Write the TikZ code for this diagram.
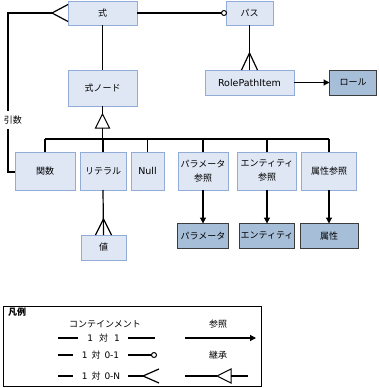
\documentclass[tikz,border=0pt]{standalone}
\usepackage{fontspec}
\setmainfont{DejaVu Sans}
\newfontfamily\jp{Noto Sans CJK JP}
\usetikzlibrary{arrows.meta}
\definecolor{lfill}{RGB}{223,231,245}
\definecolor{ldraw}{RGB}{146,172,216}
\definecolor{dfill}{RGB}{166,190,215}
\definecolor{ddraw}{RGB}{60,60,60}
\tikzset{
  base/.style={inner sep=0pt, outer sep=0pt, align=center, font=\jp\fontsize{9}{14}\selectfont},
  lbox/.style={base, draw=ldraw, fill=lfill, line width=1pt},
  dbox/.style={base, draw=ddraw, fill=dfill, line width=1pt},
  conn/.style={line width=1.2pt, black},
  arr/.style={conn, -{Triangle[length=6pt,width=6pt]}},
  lat/.style={font=\fontsize{9.5}{12}\selectfont},
  txt/.style={inner sep=0pt, font=\jp\fontsize{9}{12}\selectfont},
  ltxt/.style={inner sep=0pt, font=\fontsize{9}{12}\selectfont},
}
\begin{document}
\begin{tikzpicture}[x=1pt,y=-1pt]
\useasboundingbox[fill=white] (0,0) rectangle (379,388);
% nodes
\node[lbox, minimum width=69, minimum height=24] (shiki) at (102.5,13) {式};
\node[lbox, minimum width=47, minimum height=24] (pasu) at (249.5,13) {パス};
\node[lbox, minimum width=69, minimum height=36] (enode) at (102.5,88) {式ノード};
\node[lbox, lat, minimum width=89, minimum height=25] (rpi) at (249.5,82.5) {RolePathItem};
\node[dbox, minimum width=47, minimum height=25] (role) at (353,82.5) {ロール};
\node[lbox, minimum width=60, minimum height=38] (kansu) at (45,171) {関数};
\node[lbox, minimum width=46, minimum height=38] (literal) at (103,171) {リテラル};
\node[lbox, lat, minimum width=33, minimum height=38] (null) at (147.5,171) {Null};
\node[lbox, minimum width=50, minimum height=38] (paramref) at (203,171) {パラメータ\\参照};
\node[lbox, minimum width=59, minimum height=38] (entref) at (267,171) {エンティティ\\参照};
\node[lbox, minimum width=55, minimum height=38] (attrref) at (329,171) {属性参照};
\node[lbox, minimum width=45, minimum height=25] (atai) at (103.5,247.5) {値};
\node[dbox, minimum width=51, minimum height=25] (param) at (203,236) {パラメータ};
\node[dbox, minimum width=55, minimum height=25] (ent) at (267,236) {エンティティ};
\node[dbox, minimum width=58, minimum height=25] (attr) at (329,236) {属性};
% connectors
\draw[conn] (shiki.south) -- (enode.north);
\coordinate (pc) at (224,13);
\draw[conn] (shiki.east) -- ([xshift=-2.5pt]pc);
\draw[conn, fill=white, line width=1pt] (pc) circle[radius=2.5];
% argument loop
\coordinate (lt) at (8,13);
\coordinate (lb) at (8,172);
\coordinate (cf1) at (52,13);
\draw[conn] (kansu.west |- lb) -- (lb) -- (lt) -- (cf1);
\draw[conn] (68,4.5) -- (cf1) -- (68,21.5);
\node[txt, fill=white, inner xsep=1pt, inner ysep=5pt] (arg) at (13,120) {引数};
% pasu to rpi
\draw[conn] (pasu.south) -- (rpi.north);
\draw[conn] (241.5,70) -- (249.5,53) -- (257.5,70);
\draw[arr] (rpi.east) -- (role.west);
% inheritance
\coordinate (tri) at (102.5,114);
\coordinate (busl) at (45,139);
\coordinate (busr) at (329,139);
\draw[conn] (enode.south) -- (tri);
\draw[conn, line width=1pt, fill=white] (tri) -- (95.5,128) -- (109.5,128) -- cycle;
\draw[conn] (102.5,128) -- (102.5,139);
\draw[conn] (busl) -- (busr);
\foreach \n in {kansu,literal,null,paramref,entref,attrref}
  \draw[conn] (\n.north) -- (\n.north |- busl);
% literal to value
\draw[conn] (literal.south) -- (atai.north);
\draw[conn] (95.5,235) -- (103.5,219) -- (111.5,235);
% references
\draw[arr] (paramref.south) -- (param.north);
\draw[arr] (entref.south) -- (ent.north);
\draw[arr] (attrref.south) -- (attr.north);
% legend
\node[draw=black, line width=1pt, minimum width=258, minimum height=80, inner sep=0pt] (legend) at (132,346) {};
\node[txt, anchor=north west, font=\jp\bfseries\fontsize{9}{12}\selectfont] (hanrei) at (8,308) {凡例};
\node[txt] (cont) at (105,324) {コンテインメント};
\node[txt] (sansho) at (218,324) {参照};
\node[ltxt] (r1) at (103.5,338) {1\hspace{6pt}{\jp 対}\hspace{6pt}1};
\draw[conn] (58,338) -- (78,338);
\draw[conn] (128,338) -- (155,338);
\draw[arr] (185,338) -- (256,338);
\node[ltxt] (r2) at (100.5,355) {1\hspace{4pt}{\jp 対}\hspace{4pt}0-1};
\draw[conn] (58,355) -- (73,355);
\draw[conn] (128,355) -- (151.5,355);
\draw[conn, fill=white, line width=1pt] (154,355) circle[radius=2.5];
\node[txt] (keisho) at (218,355) {継承};
\node[ltxt] (r3) at (101,376) {1\hspace{4pt}{\jp 対}\hspace{4pt}0-N};
\draw[conn] (58,376) -- (73,376);
\draw[conn] (128,376) -- (143,376);
\draw[conn] (159,369) -- (143,376) -- (159,383);
\draw[conn] (185,376) -- (217,376);
\draw[conn, line width=1pt, fill=white] (217,376) -- (231,369) -- (231,383) -- cycle;
\draw[conn] (231,376) -- (248,376);
\end{tikzpicture}
\end{document}
